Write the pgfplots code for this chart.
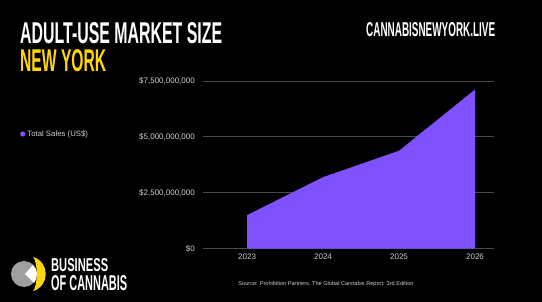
\documentclass[border=0pt]{standalone}
\usepackage{fontspec}
\setmainfont{Liberation Sans}
\usepackage{graphicx}
\usepackage{pgfplots}
\pgfplotsset{compat=1.18}
\definecolor{purp}{HTML}{8052FF}
\definecolor{yel}{HTML}{FFD60A}
\definecolor{gridc}{HTML}{4A4A4A}
\definecolor{lab}{HTML}{CFCFCF}
\begin{document}
\begin{tikzpicture}
\fill[black] (0pt,0pt) rectangle (542pt,302pt);
% titles
\node[anchor=north west,inner sep=0pt,text=white] at (20pt,280pt) {\resizebox{202pt}{21pt}{\bfseries ADULT-USE MARKET SIZE}};
\node[anchor=north west,inner sep=0pt,text=yel] at (20pt,253pt) {\resizebox{86pt}{22pt}{\bfseries NEW YORK}};
\node[anchor=north west,inner sep=0pt,text=white] at (366pt,280pt) {\resizebox{129pt}{14pt}{\bfseries CANNABISNEWYORK.LIVE}};
% logo
\fill[gray!75] (24pt,28pt) circle (13pt);
\fill[yel] (33pt,45pt) .. controls (50pt,40pt) and (50pt,16pt) .. (33pt,11pt) .. controls (38pt,16pt) and (38pt,40pt) .. (33pt,45pt) -- cycle;
\fill[white] (25pt,28pt) -- (33pt,37pt) .. controls (38pt,33pt) and (38pt,23pt) .. (34pt,19pt) -- cycle;
\node[anchor=north west,inner sep=0pt,text=white] at (51pt,44pt) {\resizebox{57pt}{13pt}{\bfseries BUSINESS}};
\node[anchor=north west,inner sep=0pt,text=white] at (51pt,27pt) {\resizebox{76pt}{15pt}{\bfseries OF CANNABIS}};
% source
\node[text=lab,inner sep=0pt] at (326pt,18pt) {\fontsize{5.6}{7}\selectfont Source: Prohibition Partners, The Global Cannabis Report: 3rd Edition};
\begin{axis}[
  at={(203pt,53.3pt)}, anchor=south west, scale only axis,
  width=291pt, height=167.7pt,
  xmin=2022.42, xmax=2026.25, ymin=0, ymax=7.5,
  axis line style={draw=none},
  major tick length=0pt,
  ytick={0,2.5,5,7.5},
  yticklabels={{\$0},{\$2,500,000,000},{\$5,000,000,000},{\$7,500,000,000}},
  xtick={2023,2024,2025,2026},
  xticklabels={2023,2024,2025,2026},
  ymajorgrids, grid style={color=gridc, line width=0.9pt},
  tick label style={text=lab, font=\fontsize{8}{9}\selectfont, inner sep=0pt},
  yticklabel style={anchor=east, xshift=-8pt},
  xticklabel style={anchor=north, yshift=-5pt},
  legend style={at={(-0.629,0.684)}, anchor=west, draw=none, fill=none, text=lab, font=\fontsize{7.8}{9}\selectfont, inner sep=0pt},
  legend image code/.code={\fill[purp] (0.15cm,0cm) circle (2.6pt);},
  legend cell align=left,
  clip=false,
]
% values in billions of US$
\addplot[fill=purp, draw=none] coordinates {(2023,1.5) (2024,3.2) (2025,4.38) (2026,7.12)} \closedcycle;
\addlegendentry{Total Sales (US\$)}
\end{axis}
\pgfresetboundingbox
\useasboundingbox (0pt,0pt) rectangle (542pt,302pt);
\end{tikzpicture}
\end{document}
